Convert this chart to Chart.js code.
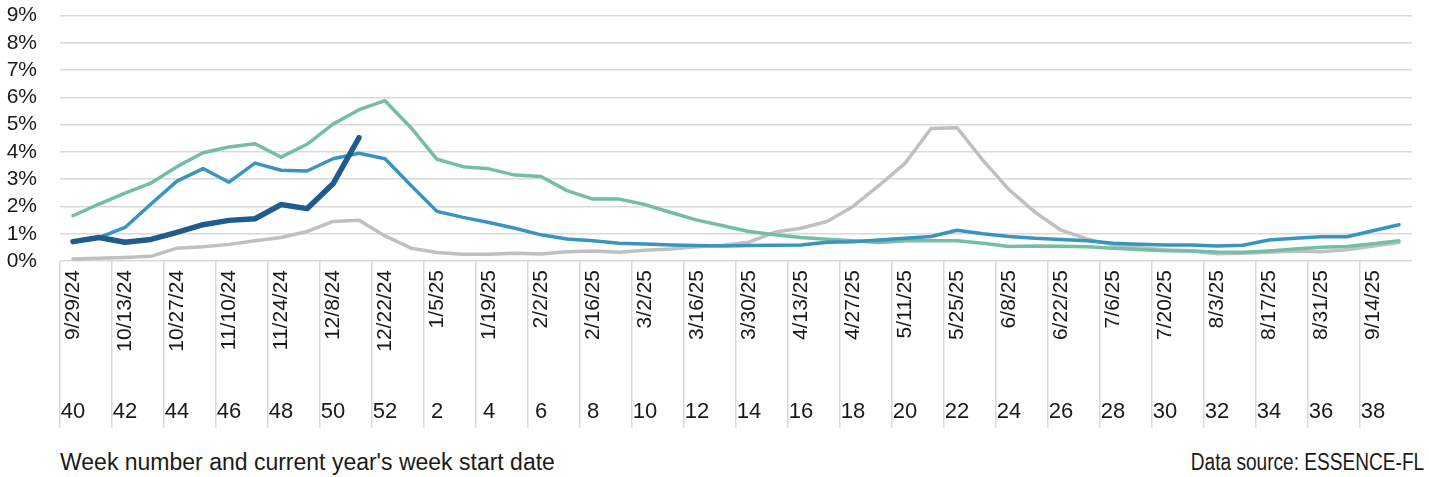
<!DOCTYPE html>
<html>
<head>
  <title>Weekly percent of visits</title>
  <script src="https://cdn.jsdelivr.net/npm/chart.js@4.4.0/dist/chart.umd.min.js"></script>
  <style>
    body { margin: 0; background: #fff; overflow: hidden; }
    #wrap { position: relative; width: 1429px; height: 452px; margin-top: -20px; }
    .foot {
      display: flex;
      justify-content: space-between;
      width: 1424px;
      padding-left: 60px;
      box-sizing: border-box;
      margin-top: 17px;
      font-family: "Liberation Sans", Arial, sans-serif;
      font-size: 23px;
      color: #1a1a1a;
    }
    .foot .src { display: inline-block; transform: scaleX(0.83); transform-origin: right center; }
  </style>
</head>
<body>

<div id="wrap"><canvas id="chart"></canvas></div>
<div class="foot">
  <span>Week number and current year's week start date</span>
  <span class="src">Data source: ESSENCE-FL</span>
</div>

<script>
  // week start dates (one per week) and the MMWR week numbers under them
  const dates = [
    '9/29/24', '10/6/24', '10/13/24', '10/20/24', '10/27/24', '11/3/24', '11/10/24', '11/17/24',
    '11/24/24', '12/1/24', '12/8/24', '12/15/24', '12/22/24', '12/29/24', '1/5/25', '1/12/25',
    '1/19/25', '1/26/25', '2/2/25', '2/9/25', '2/16/25', '2/23/25', '3/2/25', '3/9/25',
    '3/16/25', '3/23/25', '3/30/25', '4/6/25', '4/13/25', '4/20/25', '4/27/25', '5/4/25',
    '5/11/25', '5/18/25', '5/25/25', '6/1/25', '6/8/25', '6/15/25', '6/22/25', '6/29/25',
    '7/6/25', '7/13/25', '7/20/25', '7/27/25', '8/3/25', '8/10/25', '8/17/25', '8/24/25',
    '8/31/25', '9/7/25', '9/14/25', '9/21/25'
  ];
  const weeks = [
    40, 41, 42, 43, 44, 45, 46, 47, 48, 49, 50, 51, 52,
    1, 2, 3, 4, 5, 6, 7, 8, 9, 10, 11, 12, 13, 14, 15, 16, 17, 18, 19, 20,
    21, 22, 23, 24, 25, 26, 27, 28, 29, 30, 31, 32, 33, 34, 35, 36, 37, 38, 39
  ];

  // percent values
  const current = [0.71, 0.86, 0.69, 0.79, 1.05, 1.33, 1.49, 1.55, 2.07, 1.92, 2.83, 4.52];

  const seasonGreen = [
    1.66, 2.09, 2.49, 2.86, 3.46, 3.97, 4.18, 4.30, 3.81, 4.28, 5.02, 5.55, 5.88,
    4.89, 3.73, 3.46, 3.38, 3.15, 3.10, 2.58, 2.27, 2.27, 2.07, 1.78, 1.50, 1.29,
    1.08, 0.96, 0.86, 0.80, 0.74, 0.68, 0.74, 0.74, 0.74, 0.65, 0.53, 0.55, 0.54,
    0.52, 0.47, 0.42, 0.38, 0.37, 0.33, 0.32, 0.37, 0.44, 0.50, 0.53, 0.63, 0.74
  ];

  const seasonBlue = [
    0.71, 0.86, 1.23, 2.09, 2.93, 3.39, 2.89, 3.59, 3.33, 3.30, 3.75, 3.95, 3.75,
    2.77, 1.82, 1.60, 1.41, 1.20, 0.96, 0.81, 0.74, 0.65, 0.62, 0.59, 0.57, 0.55,
    0.57, 0.58, 0.59, 0.69, 0.71, 0.77, 0.83, 0.90, 1.13, 1.00, 0.90, 0.83, 0.79,
    0.74, 0.65, 0.61, 0.59, 0.59, 0.55, 0.58, 0.77, 0.83, 0.89, 0.89, 1.11, 1.33
  ];

  const seasonGray = [
    0.07, 0.10, 0.13, 0.17, 0.47, 0.52, 0.61, 0.74, 0.86, 1.08, 1.45, 1.49, 0.92,
    0.47, 0.31, 0.25, 0.25, 0.28, 0.26, 0.34, 0.37, 0.32, 0.39, 0.44, 0.52, 0.58,
    0.69, 1.06, 1.20, 1.45, 2.00, 2.77, 3.58, 4.86, 4.89, 3.69, 2.62, 1.79, 1.13,
    0.81, 0.59, 0.49, 0.41, 0.38, 0.27, 0.28, 0.32, 0.37, 0.34, 0.41, 0.55, 0.68
  ];

  const gridColor = '#d9d9d9';
  const labelFont = { family: 'Liberation Sans, Arial, sans-serif', size: 21 };
  const weekFont = { family: 'Liberation Sans, Arial, sans-serif', size: 22 };

  // dividers only every second week
  const everyOther = ctx => ctx.index % 2 === 0 ? gridColor : 'rgba(0,0,0,0)';

  function line(label, data, color, width, order) {
    return {
      label: label,
      data: data,
      borderColor: color,
      backgroundColor: color,
      borderWidth: width,
      pointRadius: 0,
      tension: 0,
      fill: false,
      borderJoinStyle: 'round',
      borderCapStyle: 'round',
      order: order
    };
  }

  new Chart(document.getElementById('chart'), {
    type: 'line',
    data: {
      labels: dates,
      datasets: [
        line('2024-25', current, '#1f5c8e', 5.5, 0),
        line('2023-24', seasonBlue, '#3a94c0', 3.5, 1),
        line('2022-23', seasonGreen, '#74bfa3', 3.5, 2),
        line('2021-22', seasonGray, '#c0c0c0', 3.5, 3)
      ]
    },
    options: {
      responsive: true,
      maintainAspectRatio: false,
      animation: false,
      layout: { padding: { top: 8, right: 17, bottom: 4, left: 0 } },
      plugins: {
        legend: { display: false },
        tooltip: { enabled: false }
      },
      scales: {
        y: {
          min: 0,
          max: 9,
          afterFit: s => { s.width = 60; },
          border: { display: false },
          grid: { color: gridColor, lineWidth: 1.5, drawTicks: false },
          ticks: {
            stepSize: 1,
            autoSkip: false,
            padding: 23,
            color: '#1a1a1a',
            font: labelFont,
            callback: v => v + '%'
          }
        },
        x: {
          position: 'bottom',
          offset: true,
          afterFit: s => { s.height = 125; },
          border: { display: false },
          grid: { offset: true, drawOnChartArea: false, tickLength: 125, color: everyOther, lineWidth: 1.5 },
          ticks: {
            autoSkip: false,
            minRotation: 90,
            maxRotation: 90,
            padding: -116,
            color: '#1a1a1a',
            font: labelFont,
            callback: (v, i) => i % 2 === 0 ? dates[i] : ''
          }
        },
        x2: {
          type: 'category',
          labels: weeks,
          position: 'bottom',
          offset: true,
          afterFit: s => { s.height = 42; },
          border: { display: false },
          grid: { offset: true, drawOnChartArea: false, tickLength: 42, color: everyOther, lineWidth: 1.5 },
          ticks: {
            autoSkip: false,
            maxRotation: 0,
            padding: -29,
            color: '#1a1a1a',
            font: weekFont,
            callback: (v, i) => i % 2 === 0 ? weeks[i] : ''
          }
        }
      }
    }
  });
</script>

</body>
</html>
